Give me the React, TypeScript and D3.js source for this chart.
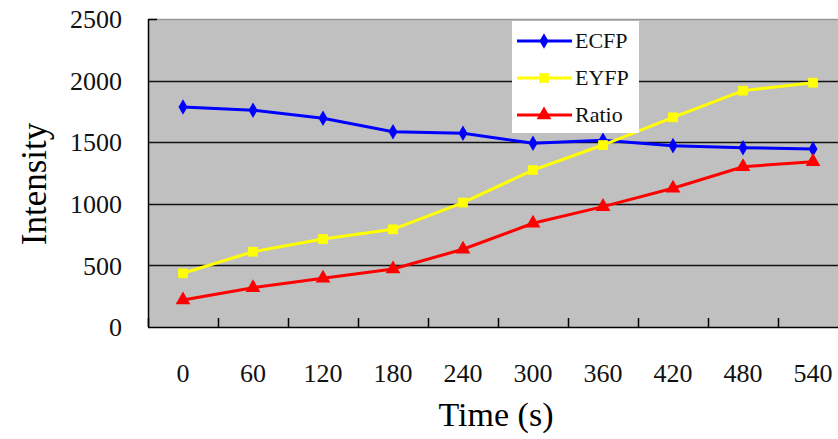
import React, { useEffect, useRef } from 'react';
import * as d3 from 'd3';

const times = ['0', '60', '120', '180', '240', '300', '360', '420', '480', '540'];
const ecfp = [1785, 1760, 1695, 1585, 1572, 1492, 1515, 1472, 1455, 1445];
const eyfp = [436, 611, 714, 793, 1010, 1274, 1477, 1702, 1918, 1983];
const ratio = [219, 319, 395, 471, 631, 842, 977, 1126, 1301, 1342];
const yTicks = [0, 500, 1000, 1500, 2000, 2500];

const seriesNames = ['ECFP', 'EYFP', 'Ratio'];
const seriesColors = ['#0000FF', '#FFFF00', '#FF0000'];
const seriesShapes = [d3.symbolDiamond, d3.symbolSquare, d3.symbolTriangle];

export default function App() {
    const svgRef = useRef<SVGSVGElement>(null);

    useEffect(() => {
        document.body.style.margin = '0';
        const width = 838;
        const height = 439;
        const plot = { left: 148, top: 19, right: 848, bottom: 327 };
        const font = '"Liberation Serif", "Times New Roman", serif';

        const svg = d3.select(svgRef.current)
            .attr('width', width)
            .attr('height', height)
            .html('');

        svg.append('rect')
            .attr('width', width).attr('height', height)
            .attr('fill', '#fff');

        const x = d3.scaleBand()
            .domain(times)
            .range([plot.left, plot.right]);
        const y = d3.scaleLinear()
            .domain([0, 2500])
            .range([plot.bottom, plot.top]);

        // plot background
        svg.append('rect')
            .attr('x', plot.left).attr('y', plot.top)
            .attr('width', plot.right - plot.left)
            .attr('height', plot.bottom - plot.top)
            .attr('fill', '#C0C0C0');

        svg.append('line')
            .attr('x1', plot.left).attr('x2', plot.right)
            .attr('y1', plot.top + 0.5).attr('y2', plot.top + 0.5)
            .attr('stroke', '#9a9a9a').attr('stroke-width', 1.5);

        // grid
        svg.append('g')
            .selectAll('line')
            .data(yTicks.slice(1, -1))
            .enter()
            .append('line')
            .attr('x1', plot.left).attr('x2', plot.right)
            .attr('y1', d => Math.round(y(d)) + 0.5)
            .attr('y2', d => Math.round(y(d)) + 0.5)
            .attr('stroke', '#111').attr('stroke-width', 1.3);

        // axes
        svg.append('line')
            .attr('x1', plot.left + 0.5).attr('x2', plot.left + 0.5)
            .attr('y1', plot.top).attr('y2', plot.bottom)
            .attr('stroke', '#000').attr('stroke-width', 1.5);
        svg.append('line')
            .attr('x1', plot.left).attr('x2', plot.right)
            .attr('y1', plot.bottom + 0.5).attr('y2', plot.bottom + 0.5)
            .attr('stroke', '#000').attr('stroke-width', 1.5);
        svg.append('line')
            .attr('x1', plot.left).attr('x2', plot.left + 9)
            .attr('y1', plot.top + 0.5).attr('y2', plot.top + 0.5)
            .attr('stroke', '#000').attr('stroke-width', 1.5);

        svg.append('g')
            .selectAll('line')
            .data(times)
            .enter()
            .append('line')
            .attr('x1', d => (x(d) as number) + 0.5)
            .attr('x2', d => (x(d) as number) + 0.5)
            .attr('y1', plot.bottom).attr('y2', plot.bottom - 9)
            .attr('stroke', '#000').attr('stroke-width', 1.5);

        // tick labels
        svg.append('g')
            .selectAll('text')
            .data(yTicks)
            .enter()
            .append('text')
            .attr('x', 122)
            .attr('y', d => y(d))
            .attr('dy', '0.35em')
            .attr('text-anchor', 'end')
            .style('font-family', font)
            .style('font-size', '26px')
            .attr('fill', '#111')
            .text(d => d);

        svg.append('g')
            .selectAll('text')
            .data(times)
            .enter()
            .append('text')
            .attr('x', d => (x(d) as number) + x.bandwidth() / 2)
            .attr('y', 382)
            .attr('text-anchor', 'middle')
            .style('font-family', font)
            .style('font-size', '26px')
            .attr('fill', '#111')
            .text(d => d);

        // axis titles
        svg.append('text')
            .attr('x', 496).attr('y', 426)
            .attr('text-anchor', 'middle')
            .style('font-family', font)
            .style('font-size', '34px')
            .attr('fill', '#000')
            .text('Time (s)');

        svg.append('text')
            .attr('transform', 'translate(46,184) rotate(-90)')
            .attr('text-anchor', 'middle')
            .style('font-family', font)
            .style('font-size', '35px')
            .attr('fill', '#000')
            .text('Intensity');

        // series
        const allSeries = [ecfp, eyfp, ratio];
        const line = d3.line<number>()
            .x((d, i) => (x(times[i]) as number) + x.bandwidth() / 2)
            .y(d => y(d));

        allSeries.forEach((values, si) => {
            svg.append('path')
                .datum(values)
                .attr('d', line)
                .attr('fill', 'none')
                .attr('stroke', seriesColors[si])
                .attr('stroke-width', 3);
            svg.append('g')
                .selectAll('path')
                .data(values)
                .enter()
                .append('path')
                .attr('transform', (d, i) => `translate(${(x(times[i]) as number) + x.bandwidth() / 2},${y(d)})`)
                .attr('d', d3.symbol().type(seriesShapes[si]).size(si === 0 ? 70 : 95)())
                .attr('fill', seriesColors[si]);
        });

        // legend
        const legend = svg.append('g');
        legend.append('rect')
            .attr('x', 512).attr('y', 21)
            .attr('width', 127).attr('height', 112)
            .attr('fill', '#fff');

        const rowY = d3.scalePoint()
            .domain(seriesNames)
            .range([41, 115]);

        seriesNames.forEach((name, si) => {
            const ry = rowY(name) as number;
            legend.append('line')
                .attr('x1', 517).attr('x2', 572)
                .attr('y1', ry).attr('y2', ry)
                .attr('stroke', seriesColors[si])
                .attr('stroke-width', 3);
            legend.append('path')
                .attr('transform', `translate(544,${ry})`)
                .attr('d', d3.symbol().type(seriesShapes[si]).size(si === 0 ? 70 : 95)())
                .attr('fill', seriesColors[si]);
            legend.append('text')
                .attr('x', 575).attr('y', ry)
                .attr('dy', '0.33em')
                .style('font-family', font)
                .style('font-size', '22px')
                .attr('fill', '#111')
                .text(name);
        });
    }, []);

    return <svg ref={svgRef} style={{ display: 'block' }} />;
}
